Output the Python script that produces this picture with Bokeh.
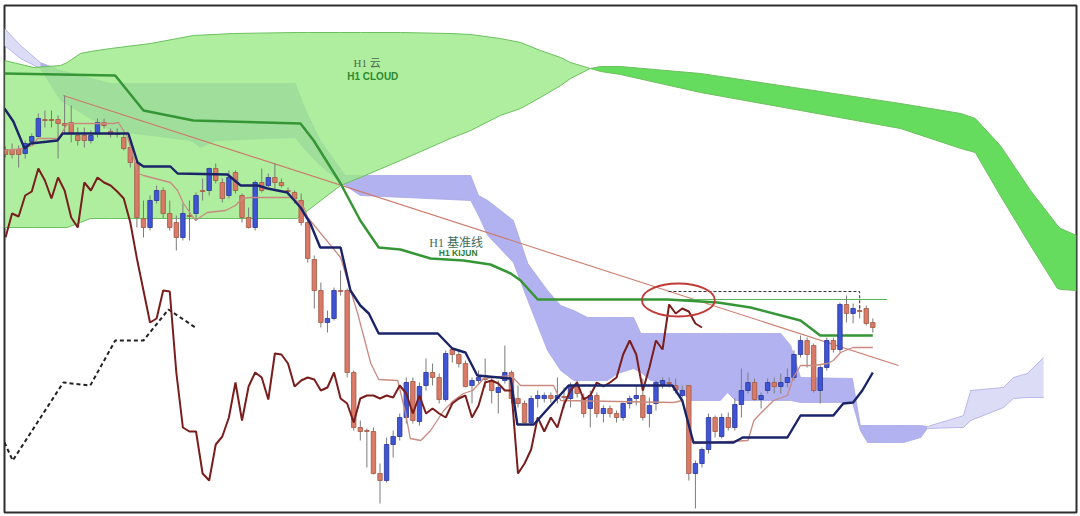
import numpy as np
from bokeh.plotting import figure
from bokeh.models import Range1d
from bokeh.core.properties import value
from bokeh.embed import file_html
from bokeh.resources import INLINE

# ---------------------------------------------------------------------------
# Price data (chart units; the vertical scale is inverted: smaller = higher)
# ---------------------------------------------------------------------------
bar_open = [149, 149, 149, 153, 141, 136, 119, 119, 119, 123, 122, 135, 135, 140, 133, 122, 131, 133, 137, 147,
            162, 218, 227, 200, 190, 213, 222, 237, 215, 213, 190, 190, 168, 182, 195, 172, 195, 217, 227, 182,
            185, 177, 182, 190, 192, 200, 222, 259, 290, 322, 318, 290, 290, 372, 427, 430, 431, 473, 480, 444,
            436, 417, 381, 421, 385, 372, 377, 399, 349, 354, 363, 385, 380, 378, 380, 392, 380, 372, 398, 403,
            422, 398, 398, 395, 398, 396, 398, 385, 397, 408, 395, 413, 408, 413, 417, 403, 398, 395, 413, 403,
            385, 382, 385, 395, 385, 473, 463, 449, 417, 436, 417, 427, 404, 390, 382, 399, 390, 382, 386, 382,
            377, 354, 340, 345, 390, 367, 340, 349, 304, 313, 310, 308, 322]
bar_high = [146, 143, 145, 140, 133, 113, 110, 110, 115, 95, 105, 127, 127, 130, 118, 118, 128, 128, 132, 143,
            160, 200, 195, 185, 187, 200, 215, 203, 200, 192, 178, 167, 163, 178, 170, 170, 193, 207, 180, 168,
            173, 163, 178, 187, 190, 193, 220, 255, 282, 310, 287, 270, 288, 370, 420, 428, 427, 463, 437, 430,
            413, 377, 377, 382, 358, 363, 373, 350, 347, 350, 360, 377, 370, 358, 377, 380, 345, 370, 385, 400,
            395, 390, 392, 392, 377, 387, 382, 380, 393, 390, 392, 405, 405, 410, 402, 395, 385, 378, 397, 380,
            377, 377, 378, 385, 385, 460, 447, 413, 415, 413, 412, 398, 368, 372, 378, 392, 378, 377, 373, 368,
            350, 335, 337, 343, 365, 337, 337, 302, 295, 303, 305, 305, 318]
bar_low = [157, 158, 167, 158, 143, 137, 127, 127, 158, 133, 142, 145, 147, 143, 137, 128, 137, 137, 150, 167,
           227, 237, 230, 203, 218, 230, 250, 240, 240, 220, 200, 195, 183, 202, 198, 193, 222, 228, 230, 192,
           187, 188, 187, 195, 203, 225, 262, 308, 327, 332, 320, 295, 377, 430, 440, 467, 474, 503, 482, 457,
           440, 423, 423, 425, 390, 385, 403, 401, 362, 367, 387, 403, 383, 387, 403, 413, 383, 403, 407, 423,
           425, 407, 402, 402, 403, 408, 407, 397, 417, 427, 417, 422, 417, 422, 420, 408, 405, 420, 427, 410,
           388, 387, 393, 397, 480, 508, 467, 453, 437, 438, 430, 430, 417, 393, 400, 408, 393, 393, 393, 387,
           380, 357, 367, 392, 403, 370, 352, 352, 322, 323, 318, 325, 332]
bar_close = [154, 154, 154, 143, 136, 118, 120, 120, 123, 125, 133, 140, 140, 135, 122, 125, 134, 134, 148, 162,
             217, 227, 200, 190, 213, 227, 237, 213, 216, 195, 191, 168, 180, 198, 177, 190, 217, 227, 182, 190,
             177, 182, 185, 191, 198, 222, 258, 290, 322, 318, 290, 291, 372, 427, 431, 431, 473, 480, 444, 436,
             417, 382, 420, 386, 372, 377, 399, 353, 354, 363, 386, 380, 377, 379, 390, 387, 372, 398, 403, 422,
             398, 395, 395, 398, 395, 397, 385, 393, 413, 395, 413, 408, 413, 417, 403, 398, 395, 417, 405, 382,
             380, 383, 390, 390, 473, 463, 449, 417, 431, 417, 427, 404, 390, 382, 399, 395, 382, 386, 382, 377,
             354, 340, 354, 390, 367, 340, 349, 304, 313, 308, 311, 323, 327]

CHIKOU_SHIFT = 26

# Kijun-sen (26) and Tenkan-sen (9), knots in bar index
kijun_x = [-0.15, 1.2, 2.9, 3.8, 7.9, 8.7, 18.7, 20.1, 21, 25.1, 26.2, 33.8, 35.8, 38.4, 39.9, 42.9, 44.9, 46.4,
           47.9, 51, 52.5, 54, 55.3, 56.8, 65.8, 68, 70, 71.8, 76.9, 77.9, 80.4, 85.7, 101.5, 103, 104.7, 110.8,
           112.2, 119, 121, 126, 127.5, 129, 130.4, 132]
kijun_y = [108, 121, 148, 143, 140, 133, 133, 162, 166, 166, 173, 174, 185, 185, 188, 192, 207, 223,
           247, 247, 290, 305, 313, 333, 333, 348, 352, 375, 378, 424, 424, 385, 385, 400, 442, 442,
           437, 437, 415, 415, 403, 402, 390, 372]

tenkan_x = [-0.15, 2.7, 4.1, 4.9, 8.1, 9.4, 16.4, 17.2, 18.6, 19.5, 20.2, 21, 25.1, 26.2, 27.1, 28.9, 30.7, 33.5,
            35, 36, 37.3, 43.8, 45.4, 46, 51, 53.6, 55.6, 56.8, 59.7, 60.9, 61.6, 63.2, 64.7, 66.7, 68.2, 69.7,
            71.1, 72.8, 76.9, 78.4, 83.4, 84.5, 101.7, 103, 104.7, 113, 113.9, 114.9, 116.9, 119, 119.9, 121,
            123, 125.1, 126, 127.1, 128.2, 129, 132]
tenkan_y = [150, 148, 145, 138, 138, 123, 123, 122, 137, 157, 173, 175, 182, 190, 203, 220, 212, 210,
            205, 198, 197, 197, 207, 217, 257, 313, 363, 379, 380, 413, 438, 440, 430, 410, 400, 393,
            390, 378, 375, 385, 385, 400, 402, 400, 443, 440, 420, 413, 400, 395, 377, 365,
            365, 363, 360, 352, 349, 347, 347]

# Senkou spans (cloud projected 26 bars ahead)
kumo_x = [-0.15, 2.3, 5.3, 8.4, 16, 28.2, 29.7, 32, 44.1, 45.7, 47.9, 51.7, 54, 70.8, 72, 73.4, 77.3, 79.5,
          82.5, 84.5, 86.5, 88.6, 91.6, 93.2, 95.6, 96.7, 98.2, 101.7, 104.3, 108.8, 109.9, 111.1, 118, 119.5,
          121, 128.9, 130.1, 131.2, 136.7, 139.3, 140.3, 144.9, 145.8, 146.9, 151.9, 153.4, 155.5, 158]
kumo_a = [28, 45, 62, 70, 83, 83, 83, 83, 83, 110, 140, 175, 175, 175, 195, 200, 220, 263,
          290, 305, 310, 317, 317, 317, 317, 333, 333, 333, 333, 333, 333, 333, 333, 345,
          377, 378, 425, 425, 425, 425, 426, 417, 415, 390, 387, 377, 373, 357]
kumo_b = [45, 58, 68, 100, 130, 140, 147, 140, 137, 150, 165, 185, 195, 200, 215, 235, 262, 300,
          350, 370, 380, 380, 380, 373, 368, 372, 380, 385, 400, 400, 392, 400, 400, 400,
          402, 402, 430, 442, 442, 437, 428, 427, 427, 420, 407, 398, 397, 397]
kumo_twist = [5.3, 140.3]

# Higher time-frame (H1) cloud and kijun
h1_x = [-0.15, 4.3, 8.4, 9.4, 11.4, 12.9, 16, 22.1, 28.6, 34.7, 44.4, 46, 51, 54, 60.1, 67.7, 70.8, 75.3,
        78.4, 81.4, 84.5, 86, 89, 90.6, 93.6, 105.8, 121, 136.2, 145.4, 147.6, 151.4, 156, 160.1, 160.6, 163]
h1_a = [60, 67, 65, 62, 53, 51, 48, 43, 35, 33, 32, 32, 32, 32, 32, 33, 34, 38,
        42, 50, 57, 62, 68, 71, 74, 92, 110, 128, 148, 152, 195, 245, 288, 289, 290]
h1_b = [227, 227, 227, 227, 222, 218, 218, 218, 218, 218, 218, 210, 185, 177, 160, 138, 130, 115,
        108, 97, 85, 78, 68, 66, 66, 73, 88, 103, 113, 118, 145, 190, 225, 228, 235]
h1_twist = 89

h1_kijun_x = [-0.15, 16.7, 21, 28.6, 44.9, 46.9, 51, 54, 56.8, 60.1, 64.7, 69.7, 73.8, 76.9, 78.4, 81, 100.8,
              108.4, 113.4, 121, 124, 132]
h1_kijun_y = [73, 75, 110, 120, 123, 140, 183, 220, 247, 249, 258, 260, 264, 273, 280, 299, 299,
              302, 307, 320, 335, 335]
h1_level = 299
h1_level_span = [81, 134.2]

# H1 lagging span (dashed)
h1_lag_x = [-0.15, 1.1, 8.8, 12.9, 16.7, 21, 24.8, 28.9]
h1_lag_y = [442, 460, 382, 385, 340, 340, 309, 327]

# Annotations
trend_x = [8.8, 135.9]
trend_y = [95, 365]
prior_high = 291
prior_high_span = [100.9, 130]
prior_high_drop = 310
circle_center = (102.4, 299.5)
circle_size = (11.1, 33)

# ---------------------------------------------------------------------------
p = figure(width=1080, height=516, output_backend="svg", toolbar_location=None,
           x_range=Range1d(-0.15, 163.0), y_range=Range1d(512, 5),
           x_axis_type=None, y_axis_type=None,
           min_border_left=4, min_border_right=4, min_border_top=5, min_border_bottom=4)
p.grid.visible = False
p.outline_line_color = "#2e2e2e"
p.outline_line_width = 2
p.background_fill_color = "white"
p.border_fill_color = "white"

# --- Senkou cloud ---------------------------------------------------------
kx = np.array(kumo_x)
ka = np.array(kumo_a)
kb = np.array(kumo_b)
pale = "#dcdcf7"
deep = "#b2b2f1"
left = kx <= kumo_twist[0]
mid = (kx >= kumo_twist[0]) & (kx <= kumo_twist[1])
right = kx >= kumo_twist[1]
p.varea(x=kx[left], y1=ka[left], y2=kb[left], fill_color=pale)
p.varea(x=kx[mid], y1=ka[mid], y2=kb[mid], fill_color=deep)
p.varea(x=kx[right], y1=ka[right], y2=kb[right], fill_color=pale)
p.line(kx, ka, line_color="#a9a9e6", line_width=0.8)
p.line(kx, kb, line_color="#a9a9e6", line_width=0.8)

# --- H1 cloud -------------------------------------------------------------
hx = np.array(h1_x)
ha = np.array(h1_a)
hb = np.array(h1_b)
hl = hx <= h1_twist
hr = hx >= h1_twist
p.varea(x=hx[hl], y1=ha[hl], y2=hb[hl], fill_color="#9aea86", fill_alpha=0.8)
p.varea(x=hx[hr], y1=ha[hr], y2=hb[hr], fill_color="#55d84c", fill_alpha=0.9)
p.line(hx, ha, line_color="#6cc05f", line_width=1)
p.line(hx, hb, line_color="#6cc05f", line_width=1)

# --- trend line and H1 kijun ---------------------------------------------
p.line(trend_x, trend_y, line_color="#cd7a6b", line_width=1.1)
p.line(h1_level_span, [h1_level, h1_level], line_color="#5bb35b", line_width=1)
p.line(h1_kijun_x, h1_kijun_y, line_color="#369636", line_width=2.5)
p.line(h1_lag_x, h1_lag_y, line_color="#222222", line_width=2, line_dash="4 3")

# --- candles --------------------------------------------------------------
idx = np.arange(len(bar_close))
o = np.array(bar_open, dtype=float)
c = np.array(bar_close, dtype=float)
up = c < o
body_top = np.minimum(o, c)
body_bot = np.maximum(o, c)
p.segment(x0=idx, y0=bar_high, x1=idx, y1=bar_low, line_color="#7b7b7b", line_width=1)
p.vbar(x=idx[up], width=0.68, top=body_top[up], bottom=body_bot[up],
       fill_color="#3f55d6", line_color="#2a3596", line_width=0.8)
p.vbar(x=idx[~up], width=0.68, top=body_top[~up], bottom=body_bot[~up],
       fill_color="#d97a68", line_color="#a25a44", line_width=0.8)

# --- Ichimoku lines -------------------------------------------------------
p.line(tenkan_x, tenkan_y, line_color="#c98a80", line_width=1.3)
p.line(idx[CHIKOU_SHIFT:] - CHIKOU_SHIFT, c[CHIKOU_SHIFT:], line_color="#7a1d1d", line_width=2)
p.line(kijun_x, kijun_y, line_color="#1b2468", line_width=2.4)

# --- annotations ----------------------------------------------------------
p.line([prior_high_span[0], prior_high_span[1], prior_high_span[1]],
       [prior_high, prior_high, prior_high_drop], line_color="#333333", line_width=1, line_dash="3 2")
p.ellipse(x=[circle_center[0]], y=[circle_center[1]], width=[circle_size[0]], height=[circle_size[1]],
          fill_color=None, line_color="#c03a36", line_width=1.8)

p.text(x=[55.25], y=[62], text=["H1  云"], text_font=value("'Liberation Serif', 'Noto Sans CJK SC'"),
       text_font_size="11px", text_color="#4f6b4f", text_align="center", text_baseline="middle")
p.text(x=[55.9], y=[76], text=["H1 CLOUD"], text_font=value("Liberation Sans"), text_font_style="bold",
       text_font_size="10px", text_color="#2f8a2f", text_align="center", text_baseline="middle")
p.text(x=[68.8], y=[242], text=["H1  基准线"], text_font=value("'Liberation Serif', 'Noto Sans CJK SC'"),
       text_font_size="12px", text_color="#3d6d60", text_align="center", text_baseline="middle")
p.text(x=[68.9], y=[252.5], text=["H1 KIJUN"], text_font=value("Liberation Sans"), text_font_style="bold",
       text_font_size="8.5px", text_color="#2e7d32", text_align="center", text_baseline="middle")

open("out.html", "w").write(file_html(p, INLINE))
